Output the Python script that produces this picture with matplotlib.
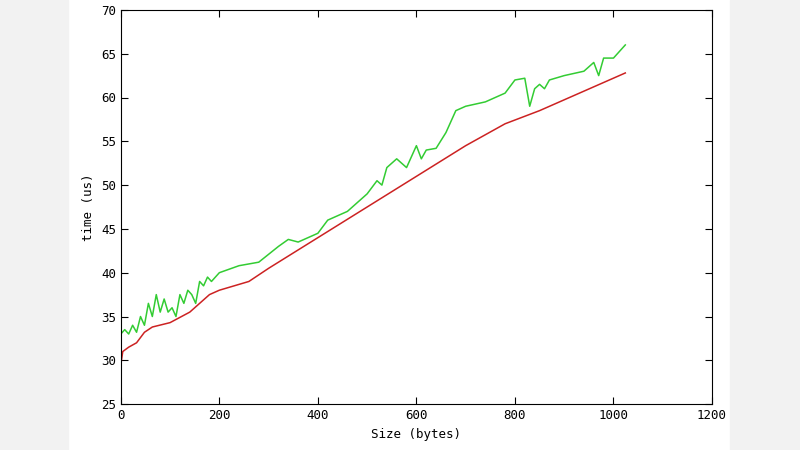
import matplotlib
matplotlib.use("Agg")
import matplotlib.pyplot as plt
from matplotlib.patches import Rectangle

green_x = [0,8,16,24,32,40,48,56,64,72,80,88,96,104,112,120,128,136,144,152,160,168,176,184,200,240,280,320,340,360,380,400,420,460,500,520,530,540,560,580,600,610,620,640,660,680,700,740,780,800,820,830,840,850,860,870,900,940,960,970,980,1000,1024]
green_y = [33,33.5,33,34,33.2,35,34,36.5,35,37.5,35.5,37,35.5,36,35,37.5,36.5,38,37.5,36.5,39,38.5,39.5,39,40,40.8,41.2,43,43.8,43.5,44,44.5,46,47,49,50.5,50,52,53,52,54.5,53,54,54.2,56,58.5,59,59.5,60.5,62,62.2,59,61,61.5,61,62,62.5,63,64,62.5,64.5,64.5,66]
red_x = [0,4,16,32,48,64,100,140,180,200,260,300,400,500,600,700,780,850,1024]
red_y = [29.5,31,31.5,32,33.2,33.8,34.3,35.5,37.5,38,39,40.5,44,47.5,51,54.5,57,58.5,62.8]
x_ticks = [0,200,400,600,800,1000,1200]
y_ticks = [25,30,35,40,45,50,55,60,65,70]

fig = plt.figure(figsize=(8,4.5), dpi=100)
fig.patch.set_facecolor("white")
fig.add_artist(Rectangle((0,0),0.085,1,transform=fig.transFigure,color="#f2f2f2",zorder=0))
fig.add_artist(Rectangle((0.913,0),0.087,1,transform=fig.transFigure,color="#f2f2f2",zorder=0))
ax = fig.add_axes([0.151,0.102,0.739,0.876])
ax.plot(green_x, green_y, color="#33cc33", lw=1.1)
ax.plot(red_x, red_y, color="#cc2222", lw=1.1)
ax.set_xlim(0,1200); ax.set_ylim(25,70)
ax.set_xticks(x_ticks); ax.set_yticks(y_ticks)
ax.tick_params(direction="in", top=True, right=True, labelsize=9, length=5)
for l in ax.get_xticklabels()+ax.get_yticklabels():
    l.set_family("DejaVu Sans Mono")
ax.set_xlabel("Size (bytes)", family="DejaVu Sans Mono", fontsize=9)
ax.set_ylabel("time (us)", family="DejaVu Sans Mono", fontsize=9)
fig.savefig("out.png", dpi=100)
